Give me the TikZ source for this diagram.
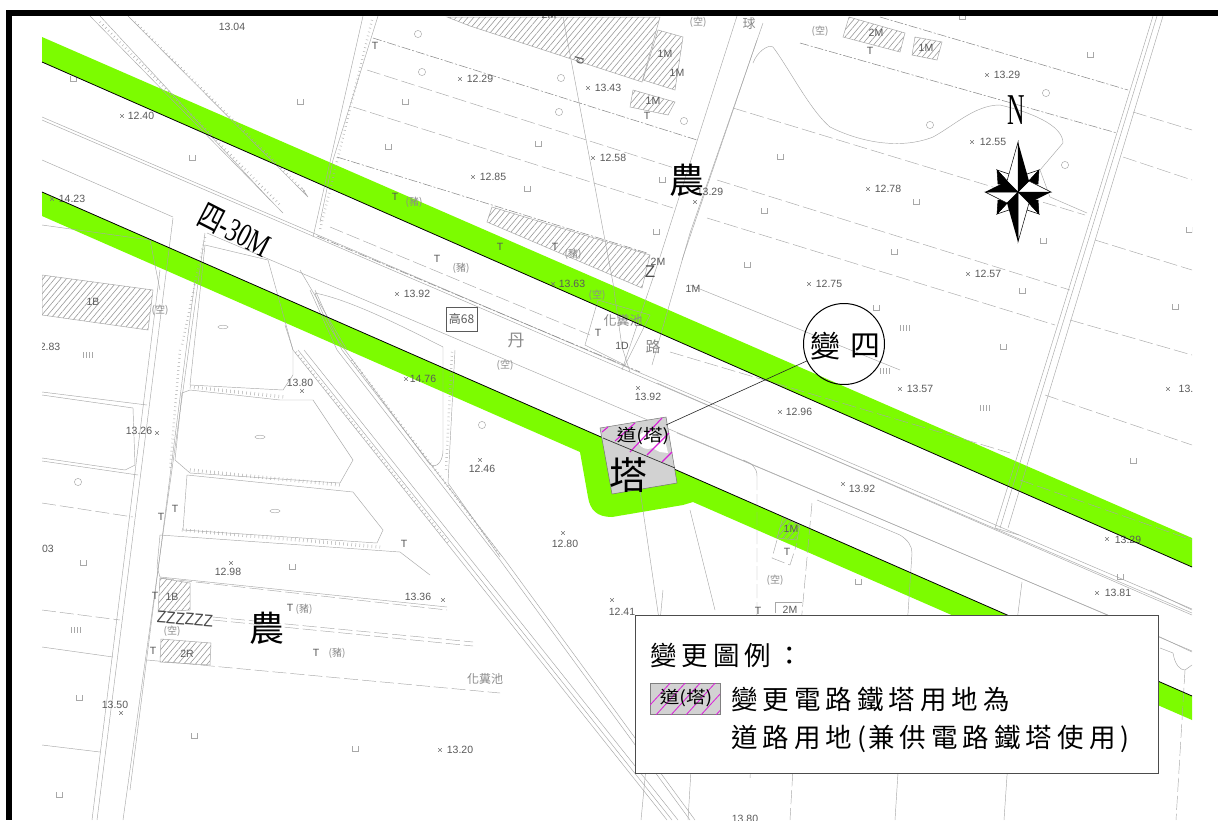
\documentclass[tikz,border=0pt]{standalone}
\usepackage{fontspec}
\setmainfont{Liberation Sans}
\newfontfamily\cjk{Noto Sans CJK TC}
\newfontfamily\cjksp[LetterSpace=19]{Noto Sans CJK TC}
\newfontfamily\serifnum{Liberation Serif}
\usetikzlibrary{patterns.meta}
\definecolor{bandgreen}{HTML}{7CFC00}
\definecolor{mapline}{HTML}{A8A8A8}
\definecolor{maptext}{HTML}{5A5A5A}
\definecolor{towergray}{HTML}{D2D2D2}
\definecolor{hatchmag}{HTML}{D81FD8}
\tikzset{
  mapl/.style={draw=mapline,line width=.45pt},
  mapd/.style={draw=mapline,line width=.45pt,dash pattern=on 14pt off 4pt},
  fence/.style={draw=mapline!80!black,line width=.5pt,dash pattern=on 9pt off 2pt on 2pt off 2pt},
  ladder/.style={draw=mapline,line width=3.4pt,dash pattern=on .45pt off 3.6pt},
  hatchbld/.style={draw=mapline,line width=.5pt,pattern={Lines[angle=50,distance=4.5pt,line width=.6pt]},pattern color=black!40},
  val/.style={text=maptext,font=\fontsize{10.5}{12}\selectfont,inner sep=0pt},
  zh/.style={text=maptext!70,font=\cjk\fontsize{10}{12}\selectfont,inner sep=0pt},
  big/.style={text=black,font=\cjk\fontsize{35}{38}\selectfont,inner sep=0pt},
  magl/.style={draw=hatchmag,line width=1.1pt},
  edgeb/.style={draw=black,line width=.8pt}
}
\begin{document}
\begin{tikzpicture}[x=1pt,y=-1pt]
\useasboundingbox (0,0) rectangle (1218,820);
\fill[white] (0,0) rectangle (1218,820);
\begin{scope}
\clip (42,16) rectangle (1192,820);
% green bands
\fill[bandgreen] (42,37) -- (1192,538) -- (1192,567) -- (42,62) -- cycle;
\fill[bandgreen] (42,192) -- (1192,696) -- (1192,720) -- (693,502) -- (683,505) -- (612,517)
  .. controls (597,517) and (590,510) .. (588,497) -- (580,452) -- (42,216) -- cycle;
% hatched buildings
\foreach \p in {
 {(447,17) -- (660,17) -- (642,82) -- (470,26) -- cycle},
 {(658,30) -- (683,37) -- (675,90) -- (643,80) -- cycle},
 {(633,90) -- (675,102) -- (668,115) -- (630,107) -- cycle},
 {(487,222) -- (492,207) -- (650,255) -- (642,288) -- cycle},
 {(42,275) -- (153,290) -- (148,330) -- (42,315) -- cycle},
 {(160,578) -- (190,583) -- (190,610) -- (158,612) -- cycle},
 {(161,639) -- (211,643) -- (210,665) -- (160,662) -- cycle},
 {(849,17) -- (905,33) -- (900,52) -- (843,37) -- cycle},
 {(915,37) -- (942,42) -- (937,60) -- (912,55) -- cycle},
 {(777,538) -- (783,517) -- (800,525) -- (797,540) -- cycle}}
 {\path[hatchbld] \p;}
% main road 4-30M
\draw[mapl] (42,117) -- (1192,609);
\draw[mapl] (42,120) -- (1192,613);
\draw[mapl] (42,160) -- (173,217);
\draw[mapl] (207,233) -- (1192,651);
\draw[mapl] (657,383) -- (1150,597);
\draw[mapl] (677,433) -- (1160,637);
\draw[fence] (317,236) -- (640,372);
% north-south roads
\draw[mapl] (173,218) -- (97,820);
\draw[mapl] (205,233) -- (123,820);
\draw[mapl] (160,270) -- (92,820);
\draw[mapl] (195,280) -- (130,790);
\draw[mapl] (363,16) -- (313,237);
\draw[mapl] (378,16) -- (333,160) -- (320,222);
\draw[ladder,line width=2.4pt] (372,20) -- (320,230);
\draw[mapl] (737,16) -- (660,257) -- (622,370);
\draw[mapl] (763,23) -- (690,233) -- (652,365);
\draw[mapl] (757,40) -- (682,260);
\draw[mapl] (1153,16) -- (995,528);
\draw[mapl] (1157,16) -- (1000,528);
\draw[mapl] (1163,16) -- (1008,528);
\draw[mapl] (995,528) -- (1019,535);
% diagonal canals
\draw[mapl] (90,16) -- (283,213);
\draw[mapl] (128,16) -- (308,197) -- (302,188);
\draw[mapl] (100,16) -- (270,200);
\draw[ladder,line width=2.4pt] (100,22) -- (280,205);
\draw[ladder,line width=2.4pt] (135,22) -- (305,192);
\draw[mapl] (300,270) -- (347,350);
\draw[mapl] (285,325) -- (293,350) -- (500,610) -- (667,820);
\draw[mapl] (298,350) -- (505,610) -- (672,820);
\draw[mapl] (304,350) -- (511,610) -- (678,820);
\draw[ladder,line width=2.4pt] (296,352) -- (450,545);
\draw[mapl] (310,290) -- (337,350) -- (500,560) -- (690,820);
\draw[mapl] (315,290) -- (342,350) -- (505,560) -- (695,820);
\draw[ladder,line width=2.4pt] (352,360) -- (500,555);
% parcel beside the canals
\draw[mapl] (315,293) .. controls (350,300) and (400,325) .. (443,347) -- (443,450)
  .. controls (443,465) and (433,470) .. (428,462) -- (345,350) .. controls (330,330) and (320,310) .. (315,293) -- cycle;
\draw[mapl] (455,350) -- (448,483) -- (500,557);
\draw[ladder,line width=2.4pt] (452,352) -- (446,470);
% field lines, upper middle
\draw[fence] (373,38) -- (697,140);
\draw[mapd] (367,70) -- (690,173);
\draw[mapd] (353,107) -- (673,208);
\draw[fence] (337,157) -- (647,253);
\draw[mapd] (330,227) -- (590,335);
\draw[mapl] (598,300) -- (650,315) -- (625,365) -- (585,345) -- cycle;
\draw[mapl] (563,17) -- (613,283) -- (622,347) -- (630,372);
\draw[mapl] (640,490) -- (665,660);
% east fields
\draw[fence] (800,43) -- (1117,133);
\draw[fence] (880,17) -- (1128,90);
\draw[mapd] (733,108) -- (1085,215);
\draw[mapd] (717,180) -- (1070,290);
\draw[mapd] (707,218) -- (1055,325);
\draw[mapd] (670,352) -- (1010,453);
\draw[mapd] (1133,112) -- (1192,130);
\draw[mapd] (1123,157) -- (1192,180);
\draw[mapd] (1095,240) -- (1192,270);
\draw[mapd] (1070,320) -- (1192,355);
\draw[mapd] (1045,395) -- (1192,445);
\draw[mapd] (1020,480) -- (1192,540);
\draw[mapl] (753,63) .. controls (757,52) and (768,44) .. (773,47)
  .. controls (790,70) and (810,110) .. (830,127)
  .. controls (860,142) and (900,150) .. (933,137)
  .. controls (955,125) and (975,105) .. (1000,105)
  .. controls (1030,112) and (1063,125) .. (1063,143)
  -- (1040,170) -- (1050,197) -- (1087,213);
\draw[mapl] (690,285) -- (900,370);
% ponds
\draw[mapl] (190,390) -- (280,400) -- (313,400) -- (353,460) -- (340,483) -- (190,473) -- (175,460) -- (182,393) -- cycle;
\draw[mapl] (187,475) -- (353,492) -- (383,530) -- (377,543) -- (183,530) -- cycle;
\draw[mapl] (205,245) -- (268,260) -- (293,350) -- (293,375) -- (283,390) -- (190,385) -- cycle;
\draw[ladder] (190,387) -- (285,397);
\draw[ladder] (190,470) -- (340,485);
\draw[ladder] (182,530) -- (380,547);
\draw[ladder,line width=2.4pt] (205,237) -- (182,345);
\draw[ladder,line width=2.4pt] (180,350) -- (170,470);
% west fields
\draw[mapl] (42,392) -- (147,405);
\draw[mapl] (42,395) -- (133,408) -- (135,465) -- (125,470) -- (42,458);
\draw[mapl] (42,461) -- (138,475);
\draw[mapd] (42,503) -- (133,517);
\draw[mapd] (42,610) -- (120,620);
\draw[mapl] (42,647) -- (113,657);
\draw[mapl] (42,745) -- (100,752);
\draw[mapl] (42,225) -- (150,240) -- (160,290);
% south fields
\draw[mapl] (160,535) -- (157,567) -- (160,577) -- (447,607);
\draw[mapd] (160,578) -- (447,610);
\draw[mapd] (213,617) -- (473,642);
\draw[mapd] (213,620) -- (473,646);
\draw[mapd] (147,660) -- (500,693);
\draw[mapl] (160,535) -- (400,552) -- (430,575);
% south of road
\draw[mapl] (743,460) .. controls (752,463) and (757,468) .. (757,476);
\draw[mapd] (757,476) -- (757,613) -- (750,780);
\draw[mapd] (812,503) -- (802,613) -- (790,820);
\draw[mapl] (817,500) -- (900,535) .. controls (908,540) and (912,546) .. (912,553) -- (908,613) -- (895,820);
\draw[mapl] (1022,582) -- (1018,613) -- (1004,820);
\draw[mapl] (690,510) -- (715,610);
\draw[mapl] (663,590) -- (641,820);
\draw[mapl] (691,770) -- (688,820);
\draw[mapd] (777,540) -- (772,558) -- (790,565) -- (797,543);
\draw[mapl] (775,613) -- (775,602) -- (802,602);
% right end
\draw[mapl] (1150,590) -- (1192,610);
\draw[mapl] (1150,597) -- (1192,615);
\draw[mapl] (1160,637) -- (1192,652);
\draw[mapl] (1160,648) -- (1173,653) .. controls (1175,665) and (1180,670) .. (1185,670) -- (1192,665);
\draw[mapd] (1185,670) -- (1176,820);
% tree circles
\foreach \x/\y in {418/34,422/72,561/78,559/112,684/121,1046/93,930/125,1065/165,482/425,78/482}
  {\draw[mapl] (\x,\y) circle (3.6);}
% fish
\foreach \x/\y in {223/327,260/437,275/511}
  {\draw[mapl] (\x,\y) ellipse (5 and 1.8);}
% paddy symbols
\foreach \x/\y in {73/79,300/102,405/102,388/147,192/158,538/144,527/189,662/180,656/232,780/157,764/211,747/265,
  916/202,1090/55,1189/230,1043/241,894/252,1022/291,1175/307,876/308,1003/347,962/17,83/563,292/567,79/698,194/736,355/749,59/795,1133/461,1120/577,858/582}
  {\draw[mapl] (\x-3,\y-3) -- (\x-3,\y+2) -- (\x+3,\y+2) -- (\x+3,\y-3);}
% tick groups
\foreach \x/\y in {88/355,76/630,905/328,885/371,985/408}
  {\foreach \d in {-4.5,-1.5,1.5,4.5} {\draw[mapl] (\x+\d,\y-3) -- (\x+\d,\y+3);}}
% spot marks
\foreach \x/\y in {122/116,52/199,460/79,588/88,593/158,473/177,695/202,553/284,397/294,302/391,157/433,406/379,480/460,638/388,
  780/412,843/484,563/533,231/563,443/600,121/713,440/750,612/600,987/75,972/142,868/189,809/284,968/274,900/389,1107/539,1097/593,1168/389}
  {\draw[mapline!70!black,line width=.4pt] (\x-1.8,\y-1.8) -- (\x+1.8,\y+1.8) (\x-1.8,\y+1.8) -- (\x+1.8,\y-1.8);}
% elevation values
\foreach \x/\y/\t in {232/27/13.04,141/116/12.40,72/199/14.23,480/79/12.29,608/88/13.43,613/158/12.58,493/177/12.85,
  710/192/13.29,572/284/13.63,417/294/13.92,50/347/2.83,300/383/13.80,139/431/13.26,423/379/14.76,482/469/12.46,
  648/397/13.92,799/412/12.96,862/489/13.92,565/544/12.80,228/572/12.98,418/597/13.36,48/549/03,115/705/13.50,
  460/750/13.20,622/612/12.41,1128/540/13.29,1118/593/13.81,1186/389/13.,920/389/13.57,829/284/12.75,988/274/12.57,
  888/189/12.78,993/142/12.55,1007/75/13.29,745/819/13.80}
  {\node[val] at (\x,\y) {\t};}
% letters
\foreach \x/\y/\t in {375/46/T,395/197/T,437/259/T,500/247/T,555/247/T,658/262/2M,693/289/1M,598/333/T,622/346/1D,
  665/54/1M,677/73/1M,653/101/1M,647/116/T,876/33/2M,870/51/T,926/48/1M,93/302/1B,172/597/1B,155/596/T,175/509/T,
  161/517/T,404/544/T,153/651/T,187/654/2R,290/608/T,316/653/T,791/529/1M,787/552/T,758/611/T,790/610/2M,549/15/2M}
  {\node[val,text=black!65] at (\x,\y) {\t};}
\node[val,rotate=-105,font=\fontsize{13}{14}\selectfont] at (579,61) {p};
% Chinese map words
\foreach \x/\y/\t/\s in {414/202/(豬)/10,461/268/(豬)/10,573/254/(豬)/10,304/609/(豬)/10,337/653/(豬)/10,
  597/295/(空)/10,698/22/(空)/10,820/31/(空)/10,160/310/(空)/10,172/631/(空)/10,775/580/(空)/10,505/365/(空)/10,
  749/24/球/13,653/347/路/15,516/340/丹/17,623/321/化糞池/13,485/679/化糞池/12}
  {\node[zh,font=\cjk\fontsize{\s}{12}\selectfont] at (\x,\y) {\t};}
\node[draw=maptext,line width=.6pt,minimum width=31pt,minimum height=24pt,inner sep=0pt,text=maptext,font=\cjk\fontsize{12}{12}\selectfont] (gao) at (461.5,319) {高68};
% dark marks
\node[inner sep=0pt,text=black!70,font=\fontsize{17}{18}\selectfont,rotate=-4] (zz) at (185,619) {\scalebox{.9}[1]{ZZZZZZ}};
\node[inner sep=0pt,text=black!70,font=\fontsize{17}{18}\selectfont] (z1) at (650,272) {Z};
\end{scope}
% black edges of green bands
\draw[edgeb] (42,62) -- (1192,567);
\draw[edgeb] (42,192) -- (1192,696);
% big Chinese words
\node[big] (nong1) at (687,180) {農};
\node[big] (nong2) at (267,628) {農};
% road name
\node[inner sep=0pt,rotate=-27,font=\cjk\fontsize{33}{35}\selectfont] (road) at (235,230) {\scalebox{.72}[1]{四{\serifnum -30M}}};
% tower parcel
\path[draw=black!55,line width=.5pt,fill=towergray] (600,428) coordinate (t1) -- (666,417) coordinate (t2) -- (677,483) coordinate (t3) -- (612,494) coordinate (t4) -- cycle;
\fill[white] (648,440) ellipse (10 and 9);
\fill[white] (650,447) -- (664,436) -- (668,453) -- (660,452) -- cycle;
\draw[magl] (602,432) -- (608,427);
\draw[magl] (615,441) -- (635,423);
\draw[magl] (630,452) -- (662,418);
\draw[magl] (647,455) -- (669,433);
\draw[magl] (662,462) -- (672,452);
\node[inner sep=0pt,font=\cjk\fontsize{17}{18}\selectfont] (daota) at (643,436) {\scalebox{1.15}[1]{道(塔)}};
\node[inner sep=0pt,font=\cjk\fontsize{38}{40}\selectfont] (ta) at (628,475) {塔};
\draw[black!80,line width=.7pt] (603,438) -- (675,468);
% leader & circle
\node[draw=black,line width=1pt,circle,minimum size=81pt,inner sep=0pt] (circ) at (844,344) {};
\node[inner sep=0pt,font=\cjk\fontsize{30}{30}\selectfont] (bian) at (825,346) {變};
\node[inner sep=0pt,font=\cjk\fontsize{30}{30}\selectfont] (si) at (865,346) {四};
\coordinate (tower) at (666,425);
\draw[black!85,line width=.6pt] (tower) -- (circ);
% compass
\node[inner sep=0pt,font=\serifnum\fontsize{44}{46}\selectfont] (north) at (1016,110) {\scalebox{.55}[1]{N}};
\begin{scope}[shift={(1018,192)}]
  \foreach \sx/\sy in {1/-1,-1/-1,1/1,-1/1}{
    \filldraw[fill=white,draw=black,line width=.5pt] (\sx*21,\sy*22) -- (\sx*9,\sy*18) -- (\sx*8,\sy*8) -- cycle;
    \filldraw[fill=black,draw=black,line width=.5pt] (\sx*21,\sy*22) -- (\sx*20,\sy*8) -- (\sx*8,\sy*8) -- cycle;
  }
  \filldraw[fill=white,draw=black,line width=.5pt] (0,0) -- (0,-50) -- (-11,-11) -- cycle;
  \filldraw[fill=white,draw=black,line width=.5pt] (0,0) -- (33,0) -- (11,-11) -- cycle;
  \filldraw[fill=white,draw=black,line width=.5pt] (0,0) -- (0,50) -- (11,11) -- cycle;
  \filldraw[fill=white,draw=black,line width=.5pt] (0,0) -- (-33,0) -- (-11,11) -- cycle;
  \fill[black] (0,0) -- (0,-50) -- (11,-11) -- cycle;
  \fill[black] (0,0) -- (33,0) -- (11,11) -- cycle;
  \fill[black] (0,0) -- (0,50) -- (-11,11) -- cycle;
  \fill[black] (0,0) -- (-33,0) -- (-11,-11) -- cycle;
\end{scope}
% legend
\node[draw=black!70,line width=.7pt,fill=white,minimum width=523pt,minimum height=158pt,inner sep=0pt,anchor=north west] (legend) at (635,615) {};
\node[inner sep=0pt,anchor=west,font=\cjksp\fontsize{26.5}{28}\selectfont] (lt) at (650,655) {變更圖例：};
\node[inner sep=0pt,anchor=north west,draw=black!50,line width=.6pt,fill=towergray,minimum width=70pt,minimum height=31pt] (swatch) at (650,683) {};
\begin{scope}
  \clip (650,683) rectangle (720,714);
  \foreach \x in {640,655,670,685,700,715}
    {\draw[hatchmag,line width=.8pt] (\x,716) -- (\x+32,681);}
\end{scope}
\node[inner sep=0pt,font=\cjk\fontsize{17}{18}\selectfont] (swt) at (686,698) {\scalebox{1.15}[1]{道(塔)}};
\node[inner sep=0pt,anchor=west,font=\cjksp\fontsize{26.5}{28}\selectfont] (l1) at (731,699) {變更電路鐵塔用地為};
\node[inner sep=0pt,anchor=west,font=\cjksp\fontsize{26.5}{28}\selectfont] (l2) at (731,739) {道路用地(\hspace{2pt}兼供電路鐵塔使用)};
% page frame
\fill[black] (6,10) rectangle (1218,16);
\fill[black] (6,10) rectangle (12,820);
\end{tikzpicture}
\end{document}
